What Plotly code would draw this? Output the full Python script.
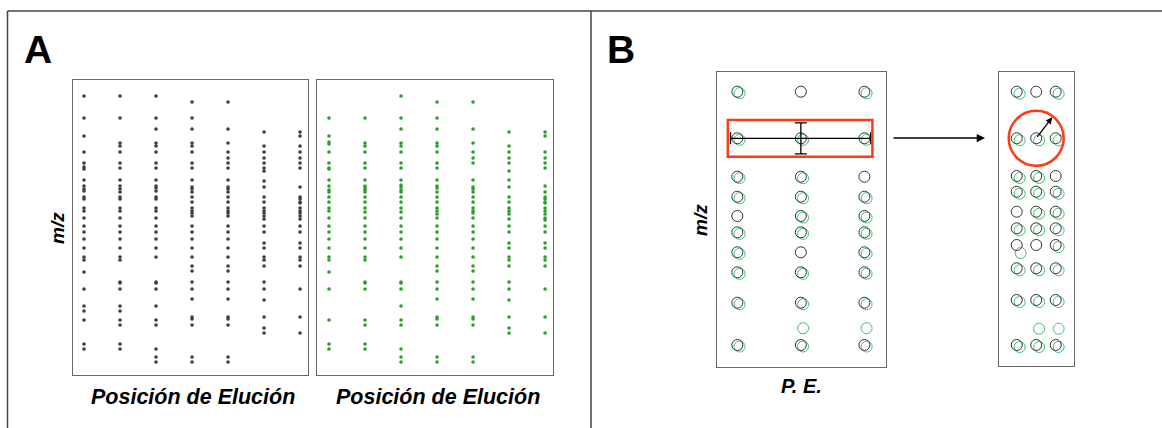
import plotly.graph_objects as go

W, H = 1162, 428

# ---------------- Panel A data (elution position 1..7, m/z read as vertical position) -------------
elution_positions = [1, 2, 3, 4, 5, 6, 7]

run1_mz = [
    [96,118,136,152,163,167,169,180,186,189,191,197,199,208,211,218,226,232,239,248,257,260,272,289,306,311,320,344,349],
    [96,118,143,146,152,163,168,180,186,189,192,197,199,208,211,218,226,232,239,248,257,260,282,283,289,306,311,320,325,344,349],
    [96,118,129,143,146,152,163,168,180,186,188,191,197,199,208,211,218,226,232,239,248,257,282,283,289,306,320,325,349,357,362],
    [102,118,129,143,146,152,163,168,180,187,189,192,197,202,208,211,213,216,226,232,239,248,257,266,271,282,289,299,317,319,325,357,362],
    [102,129,143,152,158,163,168,180,187,189,192,197,202,208,211,213,216,226,232,239,248,257,266,271,282,289,299,317,319,325,357,362],
    [132,146,152,158,163,168,171,181,187,197,202,208,211,213,216,219,226,232,243,248,257,260,266,282,289,300,317,328,333],
    [132,136,146,152,158,163,168,187,197,199,202,203,208,211,213,216,219,226,232,243,248,257,260,266,289,317,333],
]

run2_mz = [
    [118,136,142,144,152,163,168,169,180,186,190,192,197,202,208,211,218,226,232,239,248,257,260,272,289,320,344,349],
    [118,143,146,152,163,168,180,186,188,190,192,197,202,208,212,218,226,232,239,248,257,260,282,283,289,320,325,344,349],
    [96,118,129,143,146,152,163,168,180,185,187,190,192,197,202,208,212,218,226,232,239,248,257,282,283,289,306,320,325,349,357,362],
    [102,118,129,143,146,152,163,168,180,186,188,192,197,202,208,211,214,218,226,232,239,248,257,266,271,282,289,299,317,319,325,357,362],
    [102,129,143,152,158,163,180,187,189,192,197,202,208,211,213,218,226,232,239,248,257,266,271,282,289,299,317,319,325,357,362],
    [132,146,152,158,163,171,180,187,197,202,208,211,214,219,226,232,243,248,257,260,266,282,289,300,317,328,333],
    [132,136,152,158,163,168,186,192,197,199,202,203,208,211,214,218,220,226,232,243,248,257,260,266,289,317,333],
]

# ---------------- Panel B data ----------------
pe_cols = [1, 2, 3]
b_left_rows = [91.7, 138.3, 176.7, 196.7, 216, 232.3, 252.3, 272.3, 302.7, 326.7, 345]
b_left_black = [[1,2,3],[1,2,3],[1,2,3],[1,2,3],[1,2,3],[1,2,3],[1,2,3],[1,2,3],[1,2,3],[],[1,2,3]]
b_left_green = [[1,3],[1,2,3],[1,2],[1,2,3],[2,3],[1,2,3],[1,3],[1,2,3],[1,2,3],[2,3],[1,2,3]]
b_left_shift_pe = 0.035
b_left_shift_mz = 1.5

b_right_rows = [91.7, 138.3, 176, 191.7, 211.7, 228.3, 245, 268.3, 300, 326.7, 345]
b_right_black = [[1,2,3],[1,2,3],[1,2,3],[1,2,3],[1,2,3],[1,2,3],[1,2,3],[1,2,3],[1,2,3],[],[1,2,3]]
b_right_green = [[1,3],[1,2,3],[1,2],[1,2,3],[2,3],[1,2,3],[3],[1,2,3],[1,2,3],[2,3],[1,2,3]]
b_right_shift_pe = 0.15
b_right_shift_mz = 2
b_right_outlier = (1.2, 253)

sel_pe, sel_mz = 2, 138.3
tol_pe_minus, tol_pe_plus = 1.107, 1.1
tol_mz = 15.5
radius_tip = (2.82, 117.3)

BLACK = '#333333'
DOT_BLACK = '#404040'
GREEN = '#2e9e2e'
GREEN_B = '#3cc46e'
RED = '#ff3b14'
FONT = 'Liberation Sans, Arial, sans-serif'

fig = go.Figure()

def px_x(p):
    return p / W

def px_y(p):
    return 1 - p / H

for i, col in enumerate(run1_mz):
    fig.add_trace(go.Scatter(x=[elution_positions[i]] * len(col), y=col, mode='markers',
                             marker=dict(symbol='circle', size=3.2, color=DOT_BLACK,
                                         line=dict(width=0.4, color=DOT_BLACK)),
                             xaxis='x', yaxis='y', showlegend=False, hoverinfo='skip'))
for i, col in enumerate(run2_mz):
    fig.add_trace(go.Scatter(x=[elution_positions[i]] * len(col), y=col, mode='markers',
                             marker=dict(symbol='circle', size=3.2, color=GREEN,
                                         line=dict(width=0.4, color=GREEN)),
                             xaxis='x2', yaxis='y2', showlegend=False, hoverinfo='skip'))

def add_circles(rows, black, green, sx, sy, xa, ya, extra=None):
    bx, by, gx, gy = [], [], [], []
    for r, bc, gc in zip(rows, black, green):
        for c in bc:
            bx.append(c); by.append(r)
        for c in gc:
            gx.append(c + sx); gy.append(r + sy)
    if extra is not None:
        gx.append(extra[0]); gy.append(extra[1])
    fig.add_trace(go.Scatter(x=gx, y=gy, mode='markers',
                             marker=dict(symbol='circle-open', size=11, color=GREEN_B, line=dict(width=1)),
                             xaxis=xa, yaxis=ya, showlegend=False, hoverinfo='skip'))
    fig.add_trace(go.Scatter(x=bx, y=by, mode='markers',
                             marker=dict(symbol='circle-open', size=11, color=BLACK, line=dict(width=1)),
                             xaxis=xa, yaxis=ya, showlegend=False, hoverinfo='skip'))

add_circles(b_left_rows, b_left_black, b_left_green, b_left_shift_pe, b_left_shift_mz, 'x3', 'y3')
add_circles(b_right_rows, b_right_black, b_right_green, b_right_shift_pe, b_right_shift_mz, 'x4', 'y4',
            extra=b_right_outlier)

fig.add_trace(go.Scatter(x=[sel_pe], y=[sel_mz], mode='markers',
                         marker=dict(size=2, color='rgba(0,0,0,0)'),
                         error_x=dict(type='data', symmetric=False, array=[tol_pe_plus], arrayminus=[tol_pe_minus],
                                      color='black', thickness=1.3, width=6),
                         error_y=dict(type='data', array=[tol_mz], color='black', thickness=1.3, width=6),
                         xaxis='x3', yaxis='y3', showlegend=False, hoverinfo='skip'))

axis_common = dict(showgrid=False, zeroline=False, showticklabels=False, ticks='',
                   showline=True, mirror=True, linecolor='#666666', linewidth=1.2, fixedrange=True)

layout = dict(
    width=W, height=H, margin=dict(l=0, r=0, t=0, b=0),
    paper_bgcolor='white', plot_bgcolor='white',
    xaxis=dict(domain=[px_x(73), px_x(308)], range=[0.694, 7.22], anchor='y', **axis_common),
    yaxis=dict(domain=[px_y(375), px_y(80)], range=[375, 80], anchor='x', **axis_common),
    xaxis2=dict(domain=[px_x(317), px_x(553)], range=[0.667, 7.22], anchor='y2', **axis_common),
    yaxis2=dict(domain=[px_y(375), px_y(80)], range=[375, 80], anchor='x2', **axis_common),
    xaxis3=dict(domain=[px_x(717), px_x(886)], range=[0.68, 3.34], anchor='y3', **axis_common),
    yaxis3=dict(domain=[px_y(367), px_y(72)], range=[367, 72], anchor='x3', **axis_common),
    xaxis4=dict(domain=[px_x(999), px_x(1074)], range=[0.09, 3.94], anchor='y4', **axis_common),
    yaxis4=dict(domain=[px_y(366), px_y(72)], range=[366, 72], anchor='x4', **axis_common),
)
fig.update_layout(**layout)

for x0, y0, x1, y1 in [(7.5, 11, W, 11), (7.5, 11, 7.5, H), (591, 11, 591, H)]:
    fig.add_shape(type='line', xref='paper', yref='paper', x0=px_x(x0), y0=px_y(y0), x1=px_x(x1), y1=px_y(y1),
                  line=dict(color='#444444', width=1.5))

fig.add_shape(type='rect', xref='x3', yref='y3', x0=0.85, x1=3.126, y0=120, y1=156.7,
              line=dict(color=RED, width=2.5))
fig.add_shape(type='circle', xref='x4', yref='y4', x0=2 - 1.41, x1=2 + 1.41, y0=138.3 - 27.5, y1=138.3 + 27.5,
              line=dict(color=RED, width=2.5))

fig.add_annotation(xref='paper', yref='paper', x=px_x(985), y=px_y(138), ax=-93, ay=0,
                   showarrow=True, arrowhead=2, arrowsize=1.1, arrowwidth=1.5, arrowcolor='black', text='')
fig.add_annotation(xref='x4', yref='y4', x=radius_tip[0], y=radius_tip[1], axref='x4', ayref='y4',
                   ax=sel_pe, ay=sel_mz, showarrow=True, arrowhead=2, arrowsize=1, arrowwidth=1.3,
                   arrowcolor='black', text='')

def label(text, x, y, size, angle=0):
    fig.add_annotation(xref='paper', yref='paper', x=px_x(x), y=px_y(y), text=text, showarrow=False,
                       textangle=angle, xanchor='center', yanchor='middle',
                       font=dict(family=FONT, size=size, color='black'))

label('<b>A</b>', 38, 49, 39)
label('<b>B</b>', 621, 49, 39)
label('<b><i>m/z</i></b>', 58, 228, 19, -90)
label('<b><i>m/z</i></b>', 701, 220, 19, -90)
label('<b><i>Posición de Elución</i></b>', 193, 397, 21.5)
label('<b><i>Posición de Elución</i></b>', 438, 397, 21.5)
label('<b><i>P. E.</i></b>', 801, 386, 20)

fig.write_html('out.html')
